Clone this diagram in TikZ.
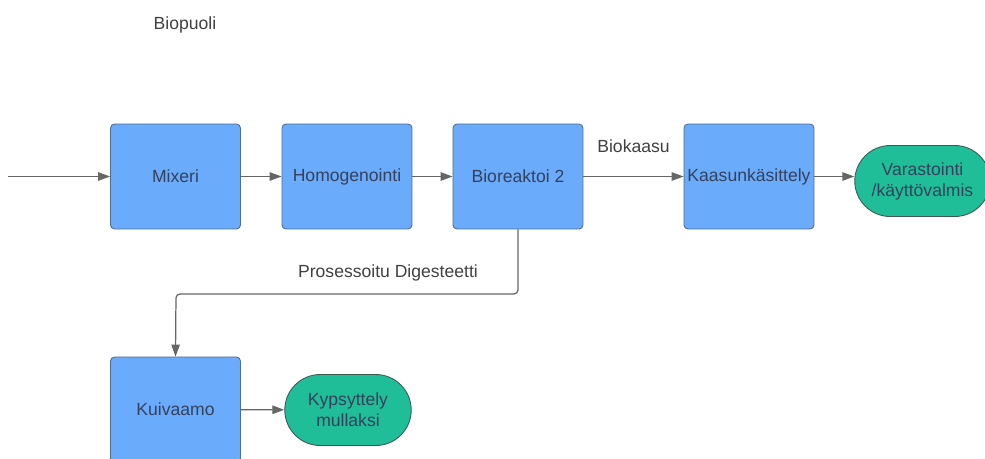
\documentclass[tikz,border=0pt]{standalone}
\usepackage{fontspec}
\setmainfont{Liberation Sans}
\usetikzlibrary{arrows.meta,shapes.misc}
\definecolor{boxblue}{HTML}{6AABFB}
\definecolor{boxedge}{HTML}{4F6B8F}
\definecolor{pillgreen}{HTML}{1FBE98}
\definecolor{pilledge}{HTML}{3C5A52}
\definecolor{wire}{HTML}{666666}
\definecolor{ink}{HTML}{34415C}

\begin{document}
\begin{tikzpicture}[x=0.02cm, y=-0.02cm,
  stage/.style={rectangle, rounded corners=0.8mm, draw=boxedge, line width=0.5pt, fill=boxblue,
    minimum width=2.6cm, minimum height=2.1cm, text=ink, font=\fontsize{10}{12}\selectfont, inner sep=1pt},
  product/.style={rounded rectangle, draw=pilledge, line width=0.5pt, fill=pillgreen,
    minimum width=2.6cm, minimum height=1.42cm, text=ink, font=\fontsize{10}{12}\selectfont, align=center, inner sep=1pt},
  flow/.style={draw=wire, line width=0.7pt, -{Triangle[length=2.4mm, width=1.7mm]}},
  tag/.style={text=black!75, font=\fontsize{10}{12}\selectfont}]
\useasboundingbox (0,0) rectangle (985,458);
\clip (0,0) rectangle (985,458);
\fill[white] (0,0) rectangle (985,458);
\node[tag] (title) at (185,25) {Biopuoli};
\coordinate (in) at (8,176.5);
\node[stage] (mix) at (175.5,176.5) {Mixeri};
\node[stage] (hom) at (347,176.5) {Homogenointi};
\node[stage] (bio) at (518,176.5) {Bioreaktoi 2};
\node[stage] (gas) at (749,176.5) {Kaasunkäsittely};
\node[product, minimum width=2.78cm] (store) at (922.5,181) {Varastointi\\/käyttövalmis};
\node[stage] (dry) at (175.5,409.5) {Kuivaamo};
\node[product] (soil) at (348,410) {Kypsyttely\\mullaksi};
\draw[flow] (in) -- (mix);
\draw[flow] (mix) -- (hom);
\draw[flow] (hom) -- (bio);
\draw[flow] (bio) -- (gas) node[tag, midway, above=10pt] {Biokaasu};
\draw[flow] (gas.east) -- (store.west |- gas.east);
\draw[flow, rounded corners=0.8mm] (bio.south) -- (518,294) -- (176,294) -- (dry.north);
\node[tag] (dig) at (388,273) {Prosessoitu Digesteetti};
\draw[flow] (dry) -- (soil);
\end{tikzpicture}
\end{document}
